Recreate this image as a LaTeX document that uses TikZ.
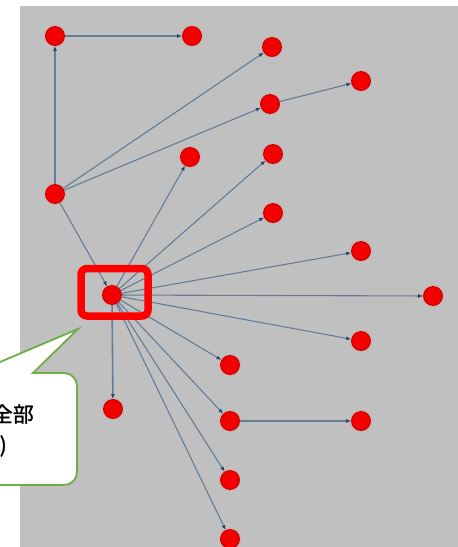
\documentclass[tikz,border=0pt]{standalone}
\usepackage{fontspec}
\newfontfamily\jpfont[FakeBold=1.3]{Noto Sans CJK JP}
\usetikzlibrary{arrows.meta}
\definecolor{bg}{RGB}{192,192,192}
\definecolor{edgecol}{RGB}{100,125,150}
\definecolor{tipcol}{RGB}{35,70,110}
\definecolor{nodefill}{RGB}{245,0,0}
\definecolor{nodedraw}{RGB}{185,0,0}
\definecolor{halocol}{RGB}{205,180,180}
\definecolor{calloutgreen}{RGB}{112,173,71}
\definecolor{hubred}{RGB}{255,0,0}
\begin{document}
\begin{tikzpicture}[x=1pt,y=-1pt,
  vert/.style={circle,fill=nodefill,draw=nodedraw,line width=0.8pt,minimum size=19pt,inner sep=0pt,
    preaction={draw=halocol,line width=4pt}},
  link/.style={draw=edgecol,line width=1.1pt,-{Latex[length=5pt,width=4pt,color=tipcol]}},
  straightlink/.style={link,line width=1.6pt},
  calltext/.style={anchor=east,inner sep=0pt,font=\jpfont\fontsize{21}{25}\selectfont},
]
\useasboundingbox (0,0) rectangle (458,547);
\clip (0,0) rectangle (458,547);
\fill[white] (0,0) rectangle (458,547);
\fill[bg] (20,6) rectangle (458,547);

% nodes
\node[vert] (a) at (55,36) {};
\node[vert] (b) at (192,36) {};
\node[vert] (c) at (272,47) {};
\node[vert] (d) at (270,104) {};
\node[vert] (e) at (361,81) {};
\node[vert] (f) at (190,157) {};
\node[vert] (g) at (273,154) {};
\node[vert] (h) at (55,194) {};
\node[vert] (i) at (273,213) {};
\node[vert] (j) at (361,251) {};
\node[vert] (k) at (112,295) {};
\node[vert] (l) at (433,296) {};
\node[vert] (m) at (361,341) {};
\node[vert] (n) at (230,365) {};
\node[vert] (o) at (113,409) {};
\node[vert] (p) at (230,421) {};
\node[vert] (q) at (361,421) {};
\node[vert] (r) at (230,480) {};
\node[vert] (s) at (230,539) {};

% edges
\draw[straightlink] (h) -- (a);
\draw[straightlink] (a) -- (b);
\draw[link] (h) -- (c);
\draw[link] (h) -- (d);
\draw[link] (d) -- (e);
\draw[link] (h) -- (k);
\foreach \t in {f,g,i,j,l,m,n,p,r,s} {\draw[link] (k) -- (\t);}
\draw[straightlink] (k) -- (o);
\draw[straightlink] (p) -- (q);

% highlight box
\draw[hubred,line width=7.5pt,rounded corners=6pt] (81,268.5) rectangle (148,316);

% callout
\draw[fill=white,draw=calloutgreen,line width=1.8pt]
  (-60,373) -- (-26,373) -- (78,329) -- (33,373) -- (64,373)
  arc[start angle=-90,end angle=0,radius=13] -- (77,472)
  arc[start angle=0,end angle=90,radius=13] -- (-60,485) -- cycle;
\node[calltext] (t1) at (34,414) {全部};
\node[calltext] (t2) at (7,446) {)};
\end{tikzpicture}
\end{document}
